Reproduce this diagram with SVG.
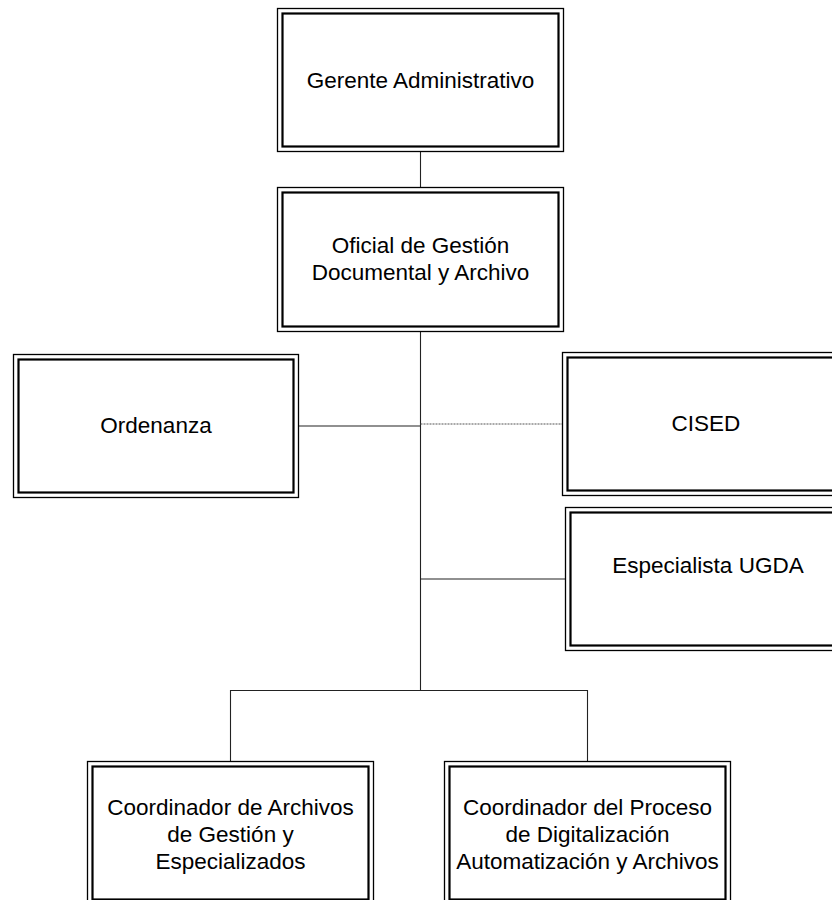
<svg xmlns="http://www.w3.org/2000/svg" width="832" height="900" viewBox="0 0 832 900">
<style>
.o{fill:#fff;stroke:#000;stroke-width:1.3}
.i{fill:none;stroke:#000;stroke-width:2.2}
.t{font-family:"Liberation Sans",Arial,sans-serif;font-size:22.5px;fill:#000;text-anchor:middle}
.c{stroke:#222;stroke-width:1.1;fill:none}
.d{stroke:#555;stroke-width:1.1;stroke-dasharray:2 1;fill:none}
</style>
<rect width="832" height="900" fill="#fff"/>
<g id="connectors">
<line class="c" x1="420.5" y1="152" x2="420.5" y2="187"/>
<line class="c" x1="420.5" y1="332" x2="420.5" y2="690"/>
<line class="c" x1="299" y1="426" x2="420.5" y2="426"/>
<line class="d" x1="420.5" y1="424" x2="562" y2="424"/>
<line class="c" x1="420.5" y1="579" x2="565" y2="579"/>
<line class="c" x1="230.5" y1="690.5" x2="587.5" y2="690.5"/>
<line class="c" x1="230.5" y1="690" x2="230.5" y2="761"/>
<line class="c" x1="587.5" y1="690" x2="587.5" y2="761"/>
</g>
<g id="gerente">
<rect class="o" x="277.5" y="8.5" width="286" height="143"/>
<rect class="i" x="282.5" y="13.5" width="276" height="133"/>
<text class="t" x="420.5" y="88">Gerente Administrativo</text>
</g>
<g id="oficial">
<rect class="o" x="277.5" y="187.5" width="286" height="144"/>
<rect class="i" x="282.5" y="192.5" width="276" height="134"/>
<text class="t" x="420.5" y="253">Oficial de Gestión</text>
<text class="t" x="420.5" y="280">Documental y Archivo</text>
</g>
<g id="ordenanza">
<rect class="o" x="13.5" y="354.5" width="285" height="143"/>
<rect class="i" x="18.5" y="359.5" width="275" height="133"/>
<text class="t" x="156" y="433">Ordenanza</text>
</g>
<g id="cised">
<rect class="o" x="562.5" y="352.5" width="286" height="143"/>
<rect class="i" x="567.5" y="357.5" width="276" height="133"/>
<text class="t" x="706" y="431">CISED</text>
</g>
<g id="especialista">
<rect class="o" x="565.5" y="507.5" width="286" height="143"/>
<rect class="i" x="570.5" y="512.5" width="276" height="133"/>
<text class="t" x="708" y="573">Especialista UGDA</text>
</g>
<g id="coord1">
<rect class="o" x="87.5" y="761.5" width="286" height="143"/>
<rect class="i" x="92.5" y="766.5" width="276" height="133"/>
<text class="t" x="230.5" y="815">Coordinador de Archivos</text>
<text class="t" x="230.5" y="842">de Gestión y</text>
<text class="t" x="230.5" y="869">Especializados</text>
</g>
<g id="coord2">
<rect class="o" x="444.5" y="761.5" width="286" height="143"/>
<rect class="i" x="449.5" y="766.5" width="276" height="133"/>
<text class="t" x="587.5" y="815">Coordinador del Proceso</text>
<text class="t" x="587.5" y="842">de Digitalización</text>
<text class="t" x="587.5" y="869">Automatización y Archivos</text>
</g>
</svg>
